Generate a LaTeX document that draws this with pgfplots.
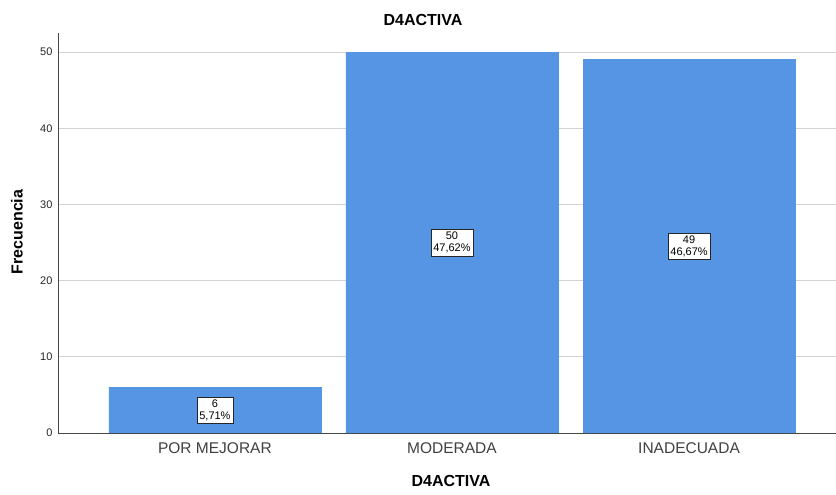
\documentclass[border=0pt]{standalone}
\usepackage{fontspec}
\setmainfont{Liberation Sans}
\usepackage{pgfplots}
\pgfplotsset{compat=1.18}
\definecolor{barblue}{RGB}{86,148,228}
\definecolor{gridgray}{RGB}{210,210,210}
\definecolor{axisgray}{RGB}{70,70,70}
\begin{document}
\begin{tikzpicture}
\begin{axis}[
  at={(58bp,62bp)}, anchor=south west,
  scale only axis, width=778bp, height=400bp,
  xmin=-0.662, xmax=2.62, ymin=0, ymax=52.5,
  axis lines*=left,
  axis line style={axisgray, line width=0.8pt},
  ytick={0,10,20,30,40,50},
  xtick={0,1,2},
  xticklabels={POR MEJORAR, MODERADA, INADECUADA},
  major tick length=0pt,
  ymajorgrids, grid style={gridgray, line width=0.8pt},
  /pgf/number format/assume math mode=true,
  yticklabel style={font=\fontsize{11bp}{13bp}\selectfont, text=black!85, xshift=-2bp},
  xticklabel style={font=\fontsize{15.5bp}{18bp}\selectfont, text=black!75, anchor=base, yshift=-21bp},
]
\addplot[ybar, bar width=212bp, fill=barblue, draw=barblue,
  visualization depends on={y \as \rawy},
  point meta=explicit symbolic,
  nodes near coords={\pgfmathprintnumber{\rawy}\\\pgfplotspointmeta\%},
  every node near coord/.append style={
    draw=black!85, fill=white, line width=0.6pt, inner xsep=2.5bp, inner ysep=3bp,
    align=center, anchor=center, text=black,
    font=\fontsize{11bp}{11.5bp}\selectfont,
    shift={(axis direction cs:0,-\rawy/2)}}
] coordinates {(0,6) [5,71] (1,50) [47,62] (2,49) [46,67]};
\end{axis}
\node[font=\bfseries\fontsize{16bp}{18bp}\selectfont] at (423bp,475.5bp) {D4ACTIVA};
\node[font=\bfseries\fontsize{16bp}{18bp}\selectfont] at (451bp,14bp) {D4ACTIVA};
\node[font=\bfseries\fontsize{16bp}{18bp}\selectfont, rotate=90] at (17bp,263bp) {Frecuencia};
\pgfresetboundingbox
\path (0,0) rectangle (836bp,495bp);
\end{tikzpicture}
\end{document}
